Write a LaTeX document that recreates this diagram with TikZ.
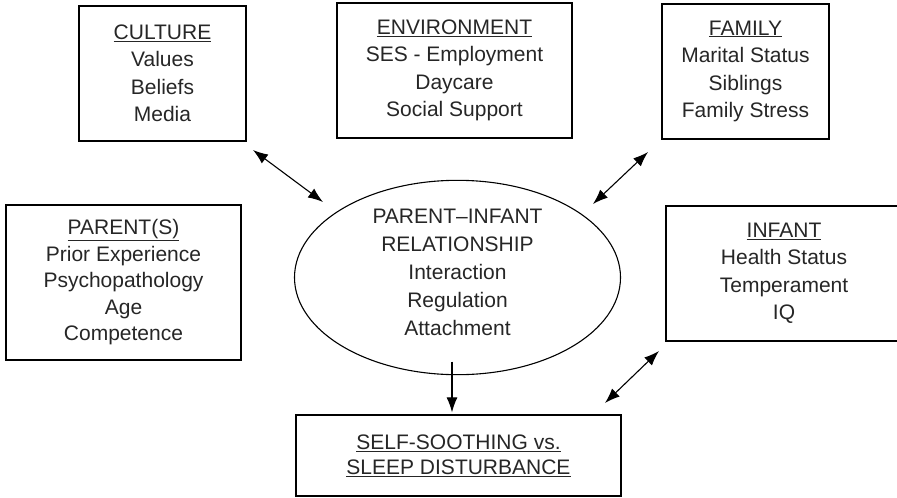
\documentclass[tikz,border=0pt]{standalone}
\usepackage{fontspec}
\setmainfont{Liberation Sans}
\usetikzlibrary{arrows.meta,shapes.geometric,calc}
\newcommand{\ulx}[1]{\underline{#1}}
\begin{document}
\begin{tikzpicture}[x=1pt,y=-1pt,
  box/.style={draw, line width=1.3pt, inner sep=0pt, align=center,
    font=\fontsize{21}{27.5}\selectfont, text=black!85},
  darr/.style={line width=1.1pt, {Latex[length=15pt,width=11pt]}-{Latex[length=15pt,width=11pt]}},
  sarr/.style={line width=1.1pt, -{Latex[length=15pt,width=11pt]}},
]
\useasboundingbox (0,0) rectangle (897,498);
\clip (0,0) rectangle (897,498);
\node[box, minimum width=167pt, minimum height=135pt] (culture) at (162.5,73.5)
  {\ulx{CULTURE}\\Values\\Beliefs\\Media};
\node[box, minimum width=235pt, minimum height=135pt] (env) at (454.5,70.5)
  {\ulx{ENVIRONMENT}\\SES - Employment\\Daycare\\Social Support};
\node[box, minimum width=167pt, minimum height=135pt] (family) at (745.5,71.5)
  {\ulx{FAMILY}\\Marital Status\\Siblings\\Family Stress};
\node[box, minimum width=235pt, minimum height=155pt,
  font=\fontsize{21}{26.5}\selectfont] (parent) at (123.5,282.5)
  {\ulx{PARENT(S)}\\Prior Experience\\Psychopathology\\Age\\Competence};
\node[box, minimum width=236pt, minimum height=135pt] (infant) at (784,273.5)
  {\ulx{INFANT}\\Health Status\\Temperament\\IQ};
\node[box, ellipse, line width=1.1pt, minimum width=326pt, minimum height=168pt,
  font=\fontsize{21}{28}\selectfont] (rel) at (457.5,277.5)
  {PARENT–INFANT\\RELATIONSHIP\\Interaction\\Regulation\\Attachment\rule[-11pt]{0pt}{11pt}};
\node[box, minimum width=325pt, minimum height=81pt,
  font=\fontsize{21}{25}\selectfont] (sleep) at (458.5,455.5)
  {\ulx{SELF-SOOTHING vs.}\\\ulx{SLEEP DISTURBANCE}};
\coordinate (c1) at (253,150);
\coordinate (c2) at (323,202);
\coordinate (f1) at (648,152);
\coordinate (f2) at (593,204);
\coordinate (i1) at (659,351);
\coordinate (i2) at (605,403);
\coordinate (r1) at (452,361.5);
\draw[darr] (c1) -- (c2);
\draw[darr] (f1) -- (f2);
\draw[darr] (i1) -- (i2);
\draw[sarr, shorten >=2pt] (r1) -- (r1 |- sleep.north);
\end{tikzpicture}
\end{document}
